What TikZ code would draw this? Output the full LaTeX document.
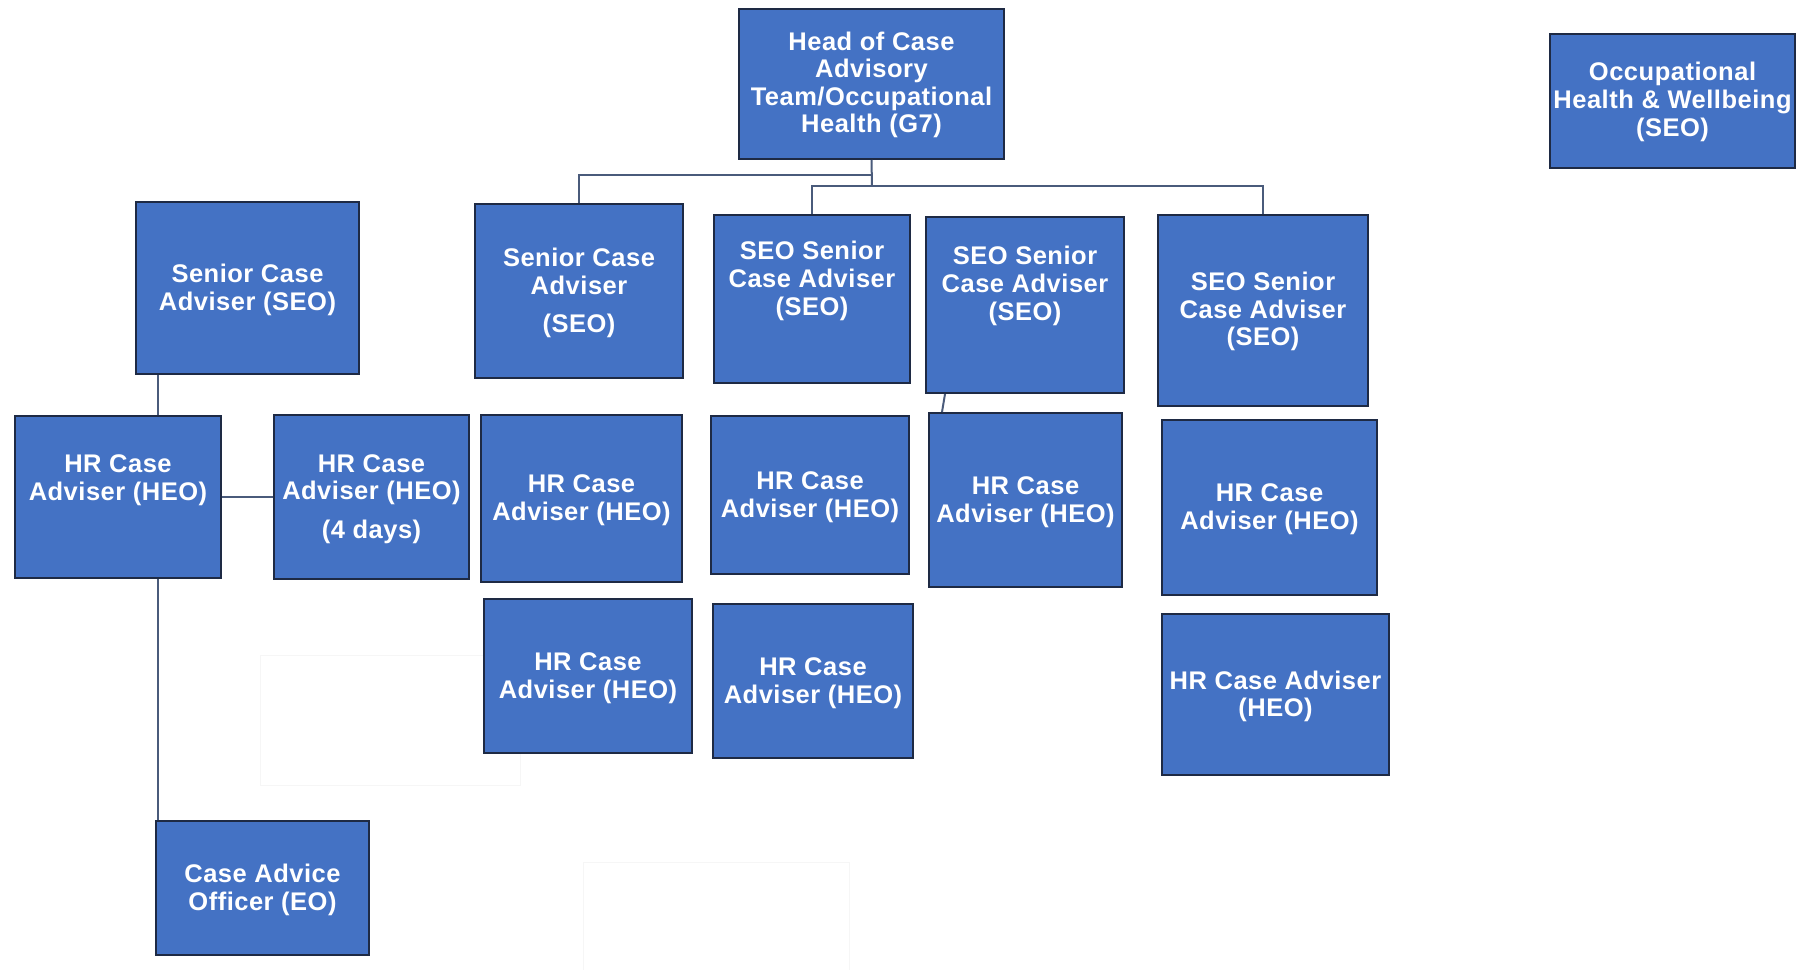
\documentclass[tikz,border=0pt]{standalone}
\usepackage{fontspec}
\setmainfont[LetterSpace=2]{Liberation Sans}
\usetikzlibrary{calc}
\definecolor{boxfill}{HTML}{4472C4}
\definecolor{boxedge}{HTML}{1E2A44}
\definecolor{linkc}{HTML}{4A5B7B}
\definecolor{ghost}{HTML}{F6F6F6}
\begin{document}
\begin{tikzpicture}[x=1pt,y=-1pt,
  box/.style={draw=boxedge, fill=boxfill, line width=2pt, inner sep=0pt},
  lbl/.style={text=white, font=\bfseries\fontsize{25.5}{27.6}\selectfont, align=center, inner sep=0pt},
  link/.style={draw=linkc, line width=2pt},
  ghostline/.style={draw=ghost, line width=1pt}]
\useasboundingbox (0,0) rectangle (1803,969);

% faint empty frames
\draw[ghostline] (260,655) rectangle (520,785);
\draw[ghostline] (583,862) rectangle (849,975);

% boxes
\node[box, minimum width=265pt, minimum height=150pt] (head) at (871.5,84) {};
\node[box, minimum width=245pt, minimum height=134pt] (occ)  at (1672.5,101) {};
\node[box, minimum width=223pt, minimum height=172pt] (sL)   at (247.5,288) {};
\node[box, minimum width=208pt, minimum height=174pt] (s2)   at (579,291) {};
\node[box, minimum width=196pt, minimum height=168pt] (s3)   at (812,299) {};
\node[box, minimum width=198pt, minimum height=176pt] (s4)   at (1025,305) {};
\node[box, minimum width=210pt, minimum height=191pt] (s5)   at (1263,310.5) {};
\node[box, minimum width=206pt, minimum height=162pt] (hL)   at (118,497) {};
\node[box, minimum width=195pt, minimum height=164pt] (h4d)  at (371.5,497) {};
\node[box, minimum width=201pt, minimum height=167pt] (h2a)  at (581.5,498.5) {};
\node[box, minimum width=198pt, minimum height=158pt] (h3a)  at (810,495) {};
\node[box, minimum width=193pt, minimum height=174pt] (h4a)  at (1025.5,500) {};
\node[box, minimum width=215pt, minimum height=175pt] (h5a)  at (1269.5,507.5) {};
\node[box, minimum width=208pt, minimum height=154pt] (h2b)  at (588,676) {};
\node[box, minimum width=200pt, minimum height=154pt] (h3b)  at (813,681) {};
\node[box, minimum width=227pt, minimum height=161pt] (h5b)  at (1275.5,694.5) {};
\node[box, minimum width=213pt, minimum height=134pt] (cao)  at (262.5,888) {};

% labels
\node[lbl, yshift=-1pt] (headT) at (head) {Head of Case\\Advisory\\Team/Occupational\\Health (G7)};
\node[lbl, yshift=-1pt] (occT)  at (occ) {Occupational\\Health \& Wellbeing\\(SEO)};
\node[lbl, yshift=-2pt] (sLT)   at (sL) {Senior Case\\Adviser (SEO)};
\node[lbl, yshift=-2pt] (s2T)   at (s2) {Senior Case\\Adviser\\[11pt](SEO)};
\node[lbl, yshift=18pt] (s3T) at (s3) {SEO Senior\\Case Adviser\\(SEO)};
\node[lbl, yshift=19pt] (s4T) at (s4) {SEO Senior\\Case Adviser\\(SEO)};
\node[lbl, yshift=-1pt] (s5T)   at (s5) {SEO Senior\\Case Adviser\\(SEO)};
\node[lbl, yshift=17pt] (hLT) at (hL) {HR Case\\Adviser (HEO)};
\node[lbl, yshift=-2pt] (h4dT)  at (h4d) {HR Case\\Adviser (HEO)\\[11pt](4 days)};
\node[lbl, yshift=-2pt] (h2aT)  at (h2a) {HR Case\\Adviser (HEO)};
\node[lbl, yshift=-2pt] (h3aT)  at (h3a) {HR Case\\Adviser (HEO)};
\node[lbl, yshift=-2pt] (h4aT)  at (h4a) {HR Case\\Adviser (HEO)};
\node[lbl, yshift=-2pt] (h5aT)  at (h5a) {HR Case\\Adviser (HEO)};
\node[lbl, yshift=-2pt] (h2bT)  at (h2b) {HR Case\\Adviser (HEO)};
\node[lbl, yshift=-2pt] (h3bT)  at (h3b) {HR Case\\Adviser (HEO)};
\node[lbl, yshift=-2pt] (h5bT)  at (h5b) {HR Case Adviser\\(HEO)};
\node[lbl, yshift=-2pt] (caoT)  at (cao) {Case Advice\\Officer (EO)};

% connectors
\coordinate (j1) at (872,175);
\coordinate (j2) at (872,186);
\coordinate (spine) at (158,0);
\draw[link] (head.south) -- (j2);
\draw[link] (j1) -| (s2.north);
\draw[link] (j2) -| (s3.north);
\draw[link] (j2) -| (s5.north);
\draw[link] (spine |- sL.south) -- (spine |- hL.north);
\draw[link] (spine |- hL.south) -- (spine |- cao.north);
\draw[link] (hL.east) -- (hL.east -| h4d.west);
\draw[link] ($(s4.south west)+(20,0)$) -- ($(h4a.north west)+(14,0)$);
\end{tikzpicture}
\end{document}
